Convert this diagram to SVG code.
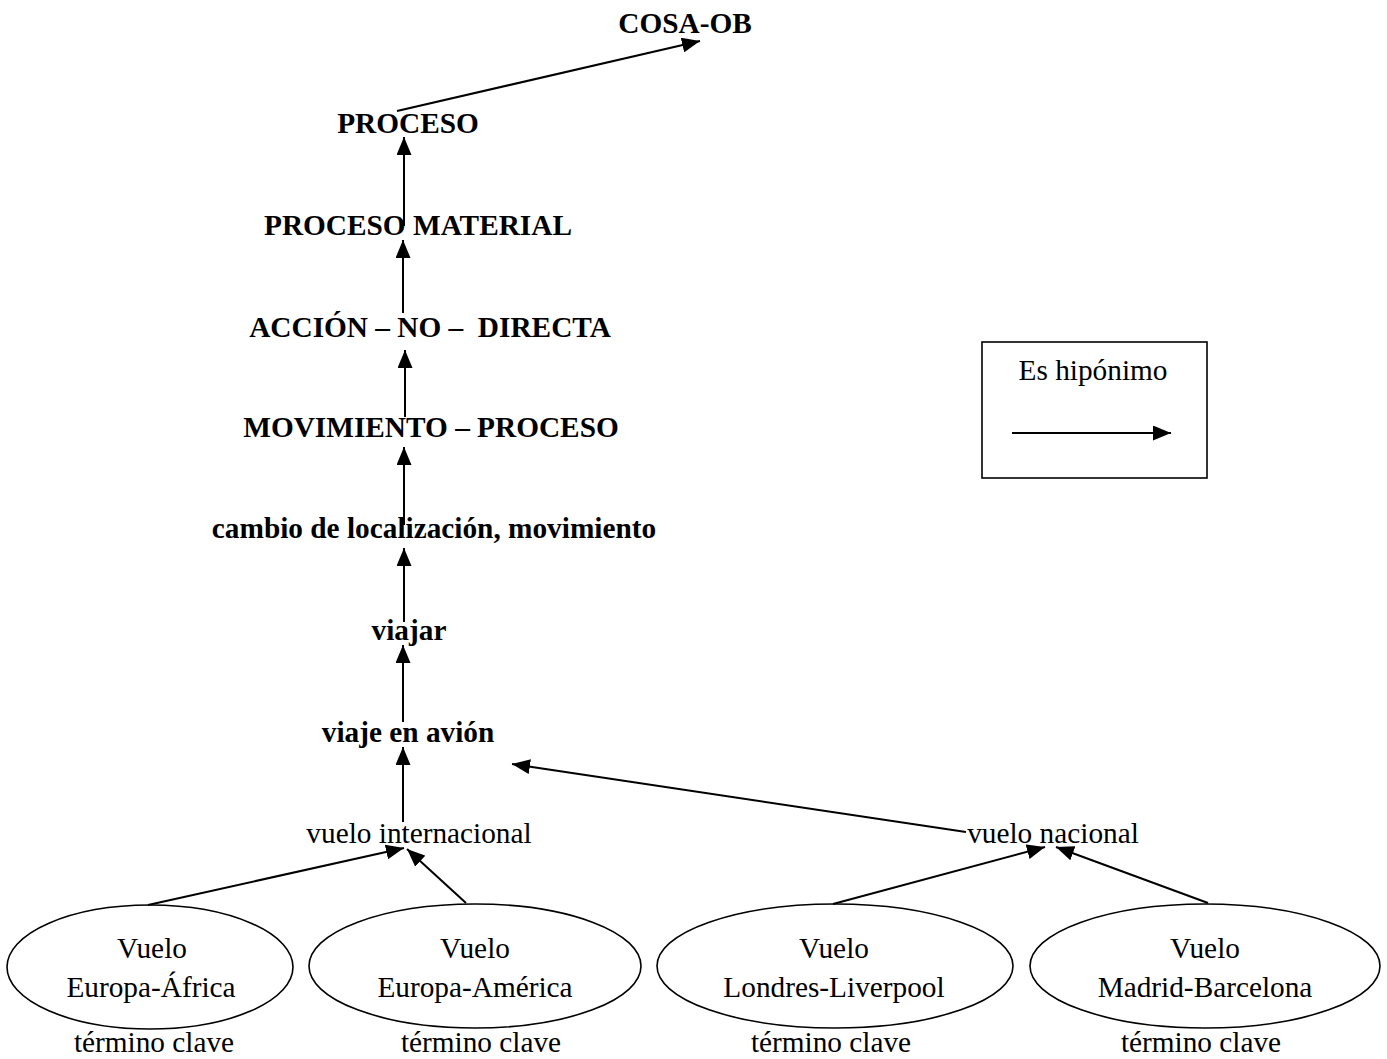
<svg xmlns="http://www.w3.org/2000/svg" width="1387" height="1059" viewBox="0 0 1387 1059">
  <style>
    text { font-family: "Liberation Serif", "Times New Roman", serif; font-size: 29.3px; fill: #000; text-anchor: middle; white-space: pre; }
    .b { font-weight: bold; }
    .edge { stroke: #000; stroke-width: 2; fill: none; marker-end: url(#arrow); }
    .node ellipse { fill: #fff; stroke: #000; stroke-width: 1.6; }
    .legend rect { fill: #fff; stroke: #000; stroke-width: 1.6; }
  </style>
  <defs>
    <marker id="arrow" markerUnits="userSpaceOnUse" markerWidth="18" markerHeight="15" refX="18" refY="7.5" orient="auto">
      <path d="M0,0 L18,7.5 L0,15 z" fill="#000"/>
    </marker>
  </defs>

  <rect width="1387" height="1059" fill="#fff"/>

  <!-- hierarchy of concepts -->
  <g id="cosa-ob" class="node"><text class="b" x="685" y="33">COSA-OB</text></g>
  <g id="proceso" class="node"><text class="b" x="408" y="133">PROCESO</text></g>
  <g id="proceso-material" class="node"><text class="b" x="418" y="235">PROCESO MATERIAL</text></g>
  <g id="accion-no-directa" class="node"><text class="b" x="430" y="337">ACCIÓN – NO –  DIRECTA</text></g>
  <g id="movimiento-proceso" class="node"><text class="b" x="431" y="437">MOVIMIENTO – PROCESO</text></g>
  <g id="cambio-localizacion" class="node"><text class="b" x="434" y="538">cambio de localización, movimiento</text></g>
  <g id="viajar" class="node"><text class="b" x="409" y="640">viajar</text></g>
  <g id="viaje-en-avion" class="node"><text class="b" x="408" y="742">viaje en avión</text></g>
  <g id="vuelo-internacional" class="node"><text x="419" y="843">vuelo internacional</text></g>
  <g id="vuelo-nacional" class="node"><text x="1053" y="843">vuelo nacional</text></g>

  <!-- key terms -->
  <g id="vuelo-europa-africa" class="node">
    <ellipse cx="150" cy="967" rx="143" ry="62"/>
    <text x="152" y="958">Vuelo</text>
    <text x="151" y="997">Europa-África</text>
    <text x="154" y="1052">término clave</text>
  </g>
  <g id="vuelo-europa-america" class="node">
    <ellipse cx="475" cy="966" rx="166" ry="62"/>
    <text x="475" y="958">Vuelo</text>
    <text x="475" y="997">Europa-América</text>
    <text x="481" y="1052">término clave</text>
  </g>
  <g id="vuelo-londres-liverpool" class="node">
    <ellipse cx="835" cy="966" rx="178" ry="62"/>
    <text x="834" y="958">Vuelo</text>
    <text x="834" y="997">Londres-Liverpool</text>
    <text x="831" y="1052">término clave</text>
  </g>
  <g id="vuelo-madrid-barcelona" class="node">
    <ellipse cx="1205" cy="966" rx="175" ry="62"/>
    <text x="1205" y="958">Vuelo</text>
    <text x="1205" y="997">Madrid-Barcelona</text>
    <text x="1201" y="1052">término clave</text>
  </g>

  <!-- hyponymy links -->
  <g id="connectors">
    <line class="edge" x1="397" y1="111" x2="700" y2="41"/>
    <line class="edge" x1="404" y1="226" x2="404" y2="137"/>
    <line class="edge" x1="403" y1="313" x2="403" y2="240"/>
    <line class="edge" x1="405" y1="417" x2="405" y2="350"/>
    <line class="edge" x1="404" y1="525" x2="404" y2="447"/>
    <line class="edge" x1="404" y1="622" x2="404" y2="548"/>
    <line class="edge" x1="403" y1="722" x2="403" y2="645"/>
    <line class="edge" x1="403" y1="822" x2="403" y2="747"/>
    <line class="edge" x1="966" y1="832" x2="512" y2="764"/>
    <line class="edge" x1="148" y1="905" x2="404" y2="848"/>
    <line class="edge" x1="466" y1="903" x2="407" y2="849"/>
    <line class="edge" x1="833" y1="904" x2="1045" y2="847"/>
    <line class="edge" x1="1208" y1="903" x2="1056" y2="847"/>
  </g>

  <!-- legend -->
  <g id="legend" class="legend">
    <rect x="982" y="342" width="225" height="136"/>
    <text x="1093" y="380">Es hipónimo</text>
    <line class="edge" x1="1012" y1="433" x2="1171" y2="433"/>
  </g>
</svg>
